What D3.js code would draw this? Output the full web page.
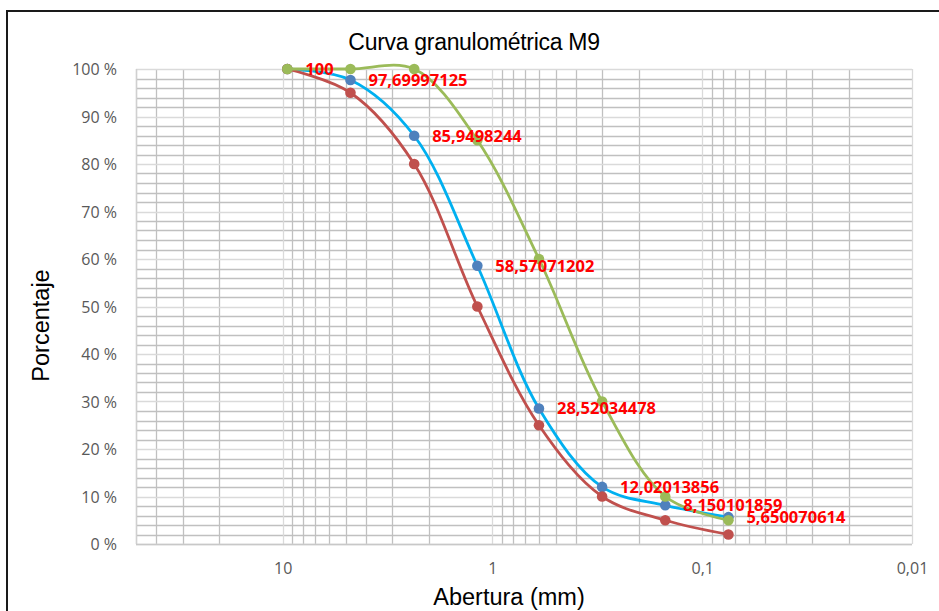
<!DOCTYPE html>
<html>
<head>
<meta charset="utf-8">
<script src="https://cdn.jsdelivr.net/npm/d3@7"></script>
<style>
  html, body { margin: 0; padding: 0; background: #fff; }
  svg { display: block; }
</style>
</head>
<body>
<svg id="chart" width="939" height="611"></svg>
<script>
// Sieve openings (mm) and percent passing for each sample
const aberturas = [9.5, 4.75, 2.36, 1.18, 0.6, 0.3, 0.15, 0.075];
const serieAzul = [100, 97.69997125, 85.9498244, 58.57071202, 28.52034478, 12.02013856, 8.150101859, 5.650070614];
const serieRoja = [100, 95, 80, 50, 25, 10, 5, 2];
const serieVerde = [100, 100, 100, 85, 60, 30, 10, 5];

// Axis ticks
const xMajorTicks = [10, 1, 0.1, 0.01];
const xTickLabels = ["10", "1", "0,1", "0,01"];
const yTicks = [0, 10, 20, 30, 40, 50, 60, 70, 80, 90, 100];

const titulo = "Curva granulométrica M9";
const tituloX = "Abertura (mm)";
const tituloY = "Porcentaje";

const svg = d3.select("#chart");

const plot = { left: 136, right: 912, top: 69, bottom: 544 };

// Reversed logarithmic opening axis, from 50 mm down to 0.01 mm
const x = d3.scaleLog().domain([50, 0.01]).range([plot.left, plot.right]);
const y = d3.scaleLinear().domain([0, 100]).range([plot.bottom, plot.top]);

// Outer frame
svg.append("rect")
  .attr("x", 7).attr("y", 11)
  .attr("width", 1000).attr("height", 1000)
  .attr("fill", "none")
  .attr("stroke", "#1a1a1a")
  .attr("stroke-width", 2);

const grid = svg.append("g");

// Minor grid values
const xMinor = [];
[0.01, 0.1, 1, 10].forEach(d => {
  for (let k = 2; k <= 9; k++) {
    const v = +(d * k).toPrecision(3);
    if (v <= 50) xMinor.push(v);
  }
});
const yMinor = d3.range(0, 101, 2).filter(v => v % 10 !== 0);

grid.selectAll("line.xminor").data(xMinor).join("line")
  .attr("x1", d => Math.round(x(d)) + 0.5).attr("x2", d => Math.round(x(d)) + 0.5)
  .attr("y1", plot.top).attr("y2", plot.bottom)
  .attr("stroke", "#c0c0c0").attr("stroke-width", 1.3);

grid.selectAll("line.yminor").data(yMinor).join("line")
  .attr("x1", plot.left).attr("x2", plot.right)
  .attr("y1", d => Math.round(y(d)) + 0.5).attr("y2", d => Math.round(y(d)) + 0.5)
  .attr("stroke", "#c0c0c0").attr("stroke-width", 1.3);

grid.selectAll("line.xmajor").data(xMajorTicks).join("line")
  .attr("x1", d => Math.round(x(d)) + 0.5).attr("x2", d => Math.round(x(d)) + 0.5)
  .attr("y1", plot.top).attr("y2", plot.bottom)
  .attr("stroke", "#dadada").attr("stroke-width", 1.3);

grid.selectAll("line.ymajor").data(yTicks).join("line")
  .attr("x1", plot.left).attr("x2", plot.right)
  .attr("y1", d => Math.round(y(d)) + 0.5).attr("y2", d => Math.round(y(d)) + 0.5)
  .attr("stroke", "#dadada").attr("stroke-width", 1.3);

// Plot area left edge and baseline
grid.append("line")
  .attr("x1", plot.left + 0.5).attr("x2", plot.left + 0.5)
  .attr("y1", plot.top).attr("y2", plot.bottom)
  .attr("stroke", "#d0d0d0").attr("stroke-width", 1.3);
grid.append("line")
  .attr("x1", plot.left).attr("x2", plot.right)
  .attr("y1", plot.bottom + 0.5).attr("y2", plot.bottom + 0.5)
  .attr("stroke", "#c8c8c8").attr("stroke-width", 1.3);

// Axes built with d3 axis generators, styled as plain labels
const yAxis = d3.axisLeft(y).tickValues(yTicks).tickSize(0).tickPadding(0)
  .tickFormat(d => d + " %");
svg.append("g")
  .attr("transform", `translate(${plot.left - 19},0)`)
  .call(yAxis)
  .call(g => g.select(".domain").remove())
  .selectAll("text")
  .attr("font-family", "'Open Sans', sans-serif")
  .attr("font-size", 16)
  .attr("fill", "#595959")
  .attr("dy", "0.36em");

const xAxis = d3.axisBottom(x).tickValues(xMajorTicks).tickSize(0).tickPadding(0)
  .tickFormat((d, i) => xTickLabels[i]);
svg.append("g")
  .attr("transform", `translate(0,${plot.bottom + 19})`)
  .call(xAxis)
  .call(g => g.select(".domain").remove())
  .selectAll("text")
  .attr("font-family", "'Open Sans', sans-serif")
  .attr("font-size", 16)
  .attr("fill", "#595959");

// Titles
svg.append("text")
  .attr("x", 474).attr("y", 50)
  .attr("text-anchor", "middle")
  .attr("font-family", "'Liberation Sans', Arial, sans-serif")
  .attr("font-size", 23)
  .attr("letter-spacing", -0.3)
  .attr("fill", "#000")
  .text(titulo);

svg.append("text")
  .attr("x", 509).attr("y", 605)
  .attr("text-anchor", "middle")
  .attr("font-family", "'Liberation Sans', Arial, sans-serif")
  .attr("font-size", 23.5)
  .attr("fill", "#000")
  .text(tituloX);

svg.append("text")
  .attr("transform", `translate(49,${(plot.top + plot.bottom) / 2 + 19}) rotate(-90)`)
  .attr("text-anchor", "middle")
  .attr("font-family", "'Liberation Sans', Arial, sans-serif")
  .attr("font-size", 23.5)
  .attr("fill", "#000")
  .text(tituloY);

// Series
const line = d3.line()
  .x(d => x(d.a))
  .y(d => y(d.p))
  .curve(d3.curveCatmullRom.alpha(0.5));

const series = [
  { values: serieAzul, lineColor: "#00b0f0", markerColor: "#4f81bd" },
  { values: serieRoja, lineColor: "#c0504d", markerColor: "#c0504d" },
  { values: serieVerde, lineColor: "#9bbb59", markerColor: "#9bbb59" }
];

series.forEach(s => {
  const pts = aberturas.map((a, i) => ({ a, p: s.values[i] }));
  const g = svg.append("g");
  g.append("path")
    .attr("d", line(pts))
    .attr("fill", "none")
    .attr("stroke", s.lineColor)
    .attr("stroke-width", 2.8)
    .attr("stroke-linejoin", "round");
  g.selectAll("circle").data(pts).join("circle")
    .attr("cx", d => x(d.a))
    .attr("cy", d => y(d.p))
    .attr("r", 5.3)
    .attr("fill", s.markerColor);
});

// Data labels for the first sample
const fmt = v => String(v).replace(".", ",");
svg.append("g").selectAll("text")
  .data(aberturas.map((a, i) => ({ a, p: serieAzul[i] })))
  .join("text")
  .attr("x", d => x(d.a) + 18)
  .attr("y", d => y(d.p))
  .attr("dy", "0.36em")
  .attr("font-family", "'Open Sans', sans-serif")
  .attr("font-weight", "bold")
  .attr("font-size", 16.5)
  .attr("fill", "#ff0000")
  .text(d => fmt(d.p));
</script>
</body>
</html>
